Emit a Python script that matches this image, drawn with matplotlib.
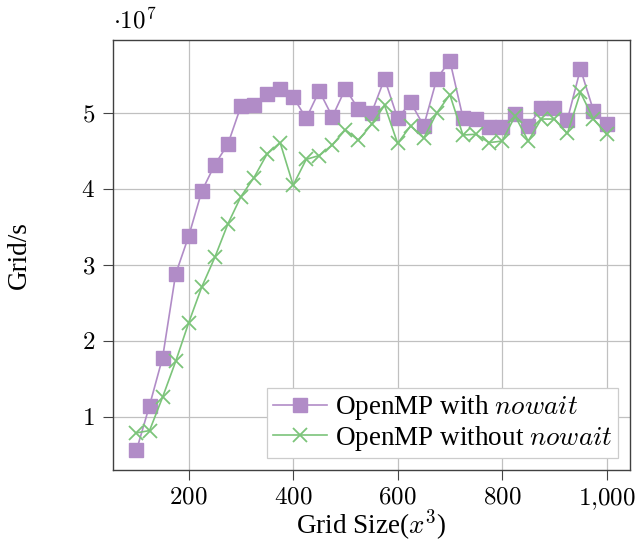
import matplotlib
matplotlib.use("Agg")
import matplotlib.pyplot as plt
from matplotlib.ticker import FixedLocator, FuncFormatter
from matplotlib.lines import Line2D

plt.rcParams['font.family'] = ['Liberation Serif', 'DejaVu Serif']
plt.rcParams['mathtext.fontset'] = 'cm'

grid_size = [100, 125, 150, 175, 200, 225, 250, 275, 300, 325, 350, 375, 400, 425,
             450, 475, 500, 525, 550, 575, 600, 625, 650, 675, 700, 725, 750, 775,
             800, 825, 850, 875, 900, 925, 950, 975, 1000]
with_nowait = [0.56, 1.15, 1.78, 2.88, 3.38, 3.97, 4.32, 4.59, 5.09, 5.10, 5.25, 5.32,
               5.21, 4.93, 5.29, 4.95, 5.32, 5.05, 5.00, 5.45, 4.93, 5.14, 4.83, 5.45,
               5.69, 4.94, 4.92, 4.81, 4.81, 4.99, 4.83, 5.06, 5.07, 4.91, 5.58, 5.03, 4.85]
without_nowait = [0.79, 0.82, 1.26, 1.73, 2.24, 2.71, 3.10, 3.54, 3.90, 4.15, 4.46, 4.61,
                  4.05, 4.39, 4.44, 4.58, 4.78, 4.64, 4.85, 5.10, 4.60, 4.83, 4.67, 5.00,
                  5.24, 4.71, 4.72, 4.61, 4.63, 4.96, 4.63, 4.92, 4.92, 4.73, 5.27, 4.92, 4.72]
x_ticks = [200, 400, 600, 800, 1000]
y_ticks = [1, 2, 3, 4, 5]
labels = ['OpenMP with $\\mathit{nowait}$', 'OpenMP without $\\mathit{nowait}$']

purple = '#b18cc7'
green = '#7cc47a'
FS = 19.5
TFS = 18

fig = plt.figure(figsize=(6.39, 5.46), dpi=100)
ax = fig.add_axes([0.1768, 0.139, 0.8092, 0.7877])

ax.plot(grid_size, with_nowait, color=purple, lw=1.2, marker='s', markersize=9.5,
        markerfacecolor=purple, markeredgecolor=purple)
ax.plot(grid_size, without_nowait, color=green, lw=1.2, marker='x', markersize=10,
        markeredgewidth=1.3)

ax.set_xlim(55, 1045)
ax.set_ylim(0.30, 5.96)
ax.xaxis.set_major_locator(FixedLocator(x_ticks))
ax.yaxis.set_major_locator(FixedLocator(y_ticks))
ax.xaxis.set_major_formatter(FuncFormatter(lambda v, p: r'$1{,}000$' if v == 1000 else r'$%d$' % v))
ax.yaxis.set_major_formatter(FuncFormatter(lambda v, p: r'$%d$' % v))
ax.tick_params(axis='both', labelsize=TFS, direction='out', length=7, width=0.8, color='#444444')
ax.tick_params(axis='x', pad=5)
ax.tick_params(axis='y', pad=6)
ax.grid(True, color='#c0c0c0', lw=0.9)
ax.set_axisbelow(True)
for s in ax.spines.values():
    s.set_color('#404040')
    s.set_linewidth(1.0)

ax.set_xlabel(r'Grid Size($x^3$)', fontsize=FS)
ax.xaxis.set_label_coords(0.5, -0.088)
ax.set_ylabel('Grid/s', fontsize=FS)
ax.yaxis.set_label_coords(-0.157, 0.5)
ax.text(0.0, 1.015, r'$\cdot 10^7$', transform=ax.transAxes, fontsize=TFS, ha='left', va='bottom')

h = [Line2D([], [], color=purple, lw=1.2, marker='s', markersize=9.5, markerfacecolor=purple, markeredgecolor=purple),
     Line2D([], [], color=green, lw=1.2, marker='x', markersize=10, markeredgewidth=1.3)]
leg = ax.legend(h, labels, loc='lower right', fontsize=FS, frameon=True, fancybox=False,
                edgecolor='#cccccc', framealpha=1.0, borderpad=0.2, labelspacing=0.05,
                handlelength=2.0, handletextpad=0.3, borderaxespad=0,
                bbox_to_anchor=(0.977, 0.028))
leg.get_frame().set_linewidth(0.9)

fig.savefig('out.png', dpi=100)
